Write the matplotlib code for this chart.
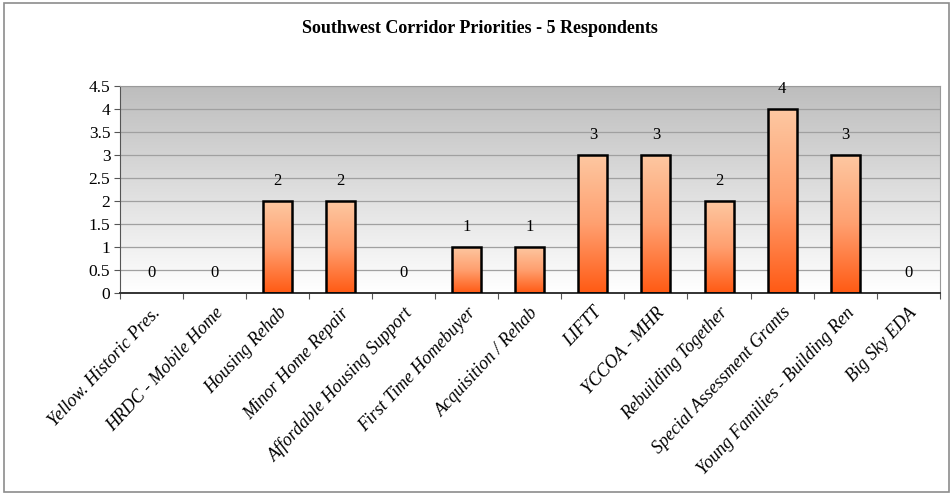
import numpy as np
import matplotlib.pyplot as plt
from matplotlib.patches import Rectangle
from matplotlib.colors import LinearSegmentedColormap

categories = [
    "Yellow. Historic Pres.", "HRDC - Mobile Home", "Housing Rehab",
    "Minor Home Repair", "Affordable Housing Support", "First Time Homebuyer",
    "Acquisition / Rehab", "LIFTT", "YCCOA - MHR", "Rebuilding Together",
    "Special Assessment Grants", "Young Families - Building Ren", "Big Sky EDA",
]
responses = [0, 0, 2, 2, 0, 1, 1, 3, 3, 2, 4, 3, 0]
y_ticks = [0, 0.5, 1, 1.5, 2, 2.5, 3, 3.5, 4, 4.5]

plt.rcParams["font.family"] = ["Liberation Serif", "DejaVu Serif"]

fig = plt.figure(figsize=(9.53, 4.96), dpi=100)
fig.patches.append(Rectangle((0.004, 0.008), 0.992, 0.986, transform=fig.transFigure,
                             fill=False, edgecolor="#8c8c8c", linewidth=1.2))
ax = fig.add_axes([0.126, 0.409, 0.86, 0.418])

n = len(categories)
x = np.arange(n)
ax.set_xlim(-0.5, n - 0.5)
ax.set_ylim(0, 4.5)

# plot area: grey at the top fading to white
bg = LinearSegmentedColormap.from_list("bg", ["#ffffff", "#bdbdbd"])
grad = np.linspace(0, 1, 256).reshape(-1, 1)
ax.imshow(grad, cmap=bg, origin="lower", aspect="auto",
          extent=(-0.5, n - 0.5, 0, 4.5), zorder=0)

for y in y_ticks[1:]:
    ax.axhline(y, color="#a0a0a0", linewidth=0.9, zorder=1)

# bars with a peach-to-orange fill; zero values get no outline
bar_cmap = LinearSegmentedColormap.from_list("bar", ["#ff5a14", "#ffa070", "#fdc8a2"])
vals = np.array(responses, dtype=float)
shown = vals > 0
bars = ax.bar(x[shown], vals[shown], width=0.46, facecolor="none", edgecolor="black",
              linewidth=1.8, zorder=3)
for b in bars:
    im = ax.imshow(grad, cmap=bar_cmap, origin="lower", aspect="auto",
                   extent=(b.get_x(), b.get_x() + b.get_width(), 0, b.get_height()),
                   zorder=2)
    im.set_clip_path(b)

for xi, v in zip(x, responses):
    ax.text(xi, v + 0.26, f"{v}", ha="center", va="bottom", fontsize=12, zorder=4)

ax.set_yticks(y_ticks)
ax.set_yticklabels([f"{t:g}" for t in y_ticks], fontsize=12.5)
ax.set_xticks(np.arange(-0.5, n, 1.0), minor=False)
ax.set_xticklabels([])
ax.set_xticks(x, minor=True)
ax.set_xticklabels(categories, minor=True, rotation=47, ha="right",
                   rotation_mode="anchor", fontsize=13, style="italic")
ax.tick_params(axis="x", which="minor", length=0, pad=8)
ax.tick_params(axis="x", which="major", length=4, direction="out", color="#555555")
ax.tick_params(axis="y", length=4, direction="out", color="#555555", pad=3)

for side in ["top", "right"]:
    ax.spines[side].set_color("#9a9a9a")
ax.spines["left"].set_color("#555555")
ax.spines["bottom"].set_color("#333333")
ax.spines["bottom"].set_linewidth(1.4)

fig.text(0.504, 0.942, "Southwest Corridor Priorities - 5 Respondents",
         ha="center", va="center", fontsize=13, fontweight="bold")

fig.savefig("out.png", dpi=100)
